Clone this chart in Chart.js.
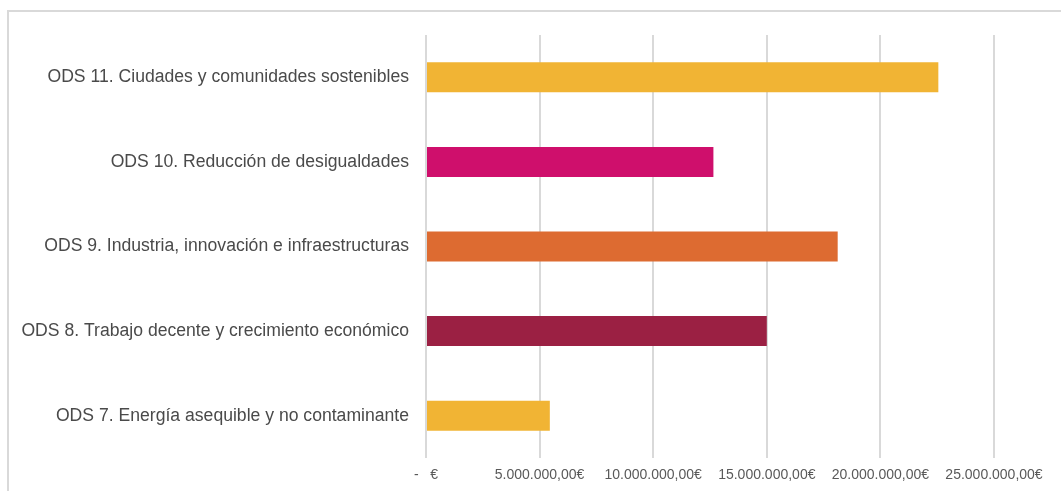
<!DOCTYPE html>
<html>
<head>
<meta charset="utf-8">
<script src="https://cdn.jsdelivr.net/npm/chart.js@4"></script>
<style>
  html, body { margin: 0; padding: 0; background: #fff; }
  #wrap { position: relative; width: 1061px; height: 491px; overflow: hidden; }
  #frame { position: absolute; left: 7px; top: 10px; width: 1100px; height: 500px;
           border-left: 2px solid #d9d9d9; border-top: 2px solid #d9d9d9; box-sizing: border-box; }
  canvas { position: absolute; left: 0; top: 0; }
</style>
</head>
<body>
<div id="wrap">
  <div id="frame"></div>
  <canvas id="c" width="1061" height="491"></canvas>
</div>
<script>
const categories = [
  'ODS 11. Ciudades y comunidades sostenibles',
  'ODS 10. Reducción de desigualdades',
  'ODS 9. Industria, innovación e infraestructuras',
  'ODS 8. Trabajo decente y crecimiento económico',
  'ODS 7. Energía asequible y no contaminante'
];
const values = [22550000, 12650000, 18120000, 15000000, 5450000];
const barColors = ['#F1B434', '#CF0F6C', '#DD6B31', '#9B2043', '#F1B434'];
const xTickValues = [0, 5000000, 10000000, 15000000, 20000000, 25000000];
const xTickLabels = ['-   €', '5.000.000,00€', '10.000.000,00€', '15.000.000,00€', '20.000.000,00€', '25.000.000,00€'];

new Chart(document.getElementById('c'), {
  type: 'bar',
  data: {
    labels: categories,
    datasets: [{
      data: values,
      backgroundColor: barColors,
      borderWidth: 0,
      barPercentage: 0.355,
      categoryPercentage: 1
    }]
  },
  options: {
    indexAxis: 'y',
    responsive: false,
    animation: false,
    layout: { padding: { top: 35, right: 67, left: 0, bottom: 0 } },
    plugins: { legend: { display: false }, tooltip: { enabled: false } },
    scales: {
      x: {
        min: 0, max: 25000000,
        afterBuildTicks: (axis) => { axis.ticks = xTickValues.map(v => ({ value: v })); },
        afterFit: (axis) => { axis.height = 33; },
        grid: { color: '#d9d9d9', lineWidth: 2, drawTicks: false },
        border: { display: false },
        ticks: {
          padding: 9,
          color: '#595959',
          font: { family: 'Liberation Sans', size: 14 },
          maxRotation: 0,
          autoSkip: false,
          callback: (v) => xTickLabels[xTickValues.indexOf(v)]
        }
      },
      y: {
        afterFit: (axis) => { axis.width = 426; },
        grid: { display: false, drawTicks: false },
        border: { display: false },
        ticks: {
          padding: 17,
          color: '#4a4a4a',
          font: { family: 'Liberation Sans', size: 17.6 }
        }
      }
    }
  }
});
</script>
</body>
</html>
